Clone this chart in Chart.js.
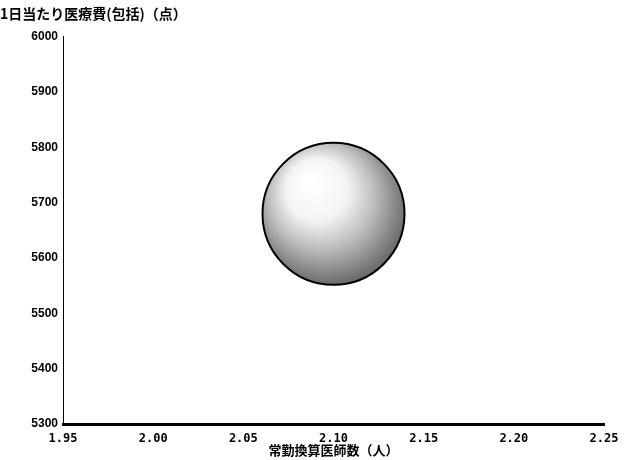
<!DOCTYPE html>
<html>
<head>
<meta charset="utf-8">
<script src="https://cdn.jsdelivr.net/npm/chart.js@4"></script>
<style>
  html, body { margin: 0; padding: 0; background: #fff; }
  #wrap { width: 625px; height: 460px; }
</style>
</head>
<body>
<div id="wrap"><canvas id="bubbleChart" width="625" height="460"></canvas></div>
<script>
// values
var doctorsX = [2.10];
var costY = [5680];
var xTicks = [1.95, 2.00, 2.05, 2.10, 2.15, 2.20, 2.25];
var yTicks = [5300, 5400, 5500, 5600, 5700, 5800, 5900, 6000];

var points = doctorsX.map(function (x, i) { return {x: x, y: costY[i]}; });

// big bubble would otherwise push the whole layout inwards
Chart.registry.getController('bubble').prototype.getMaxOverflow = function () { return false; };

function sphereFill(c) {
    var chart = c.chart;
    if (!chart.chartArea || c.raw === undefined) return '#aaa';
    var cx = chart.scales.x.getPixelForValue(c.raw.x);
    var cy = chart.scales.y.getPixelForValue(c.raw.y);
    var g = chart.ctx.createRadialGradient(cx - 22, cy - 32, 5, cx - 4, cy - 6, 92);
    g.addColorStop(0, '#ffffff');
    g.addColorStop(0.3, '#f3f3f3');
    g.addColorStop(0.55, '#bdbdbd');
    g.addColorStop(0.8, '#7c7c7c');
    g.addColorStop(1, '#4c4c4c');
    return g;
}

var ctx = document.getElementById("bubbleChart").getContext("2d");
new Chart(ctx, {
    type: 'bubble',
    data: {
        datasets: [{
            label: '医療費',
            data: points,
            radius: 71,
            backgroundColor: sphereFill,
            borderColor: '#000',
            borderWidth: 2,
            hoverRadius: 0
        }]
    },
    options: {
        responsive: false,
        animation: false,
        layout: {padding: {left: 0, right: 21, top: 0, bottom: 0}},
        plugins: {
            legend: {display: false},
            tooltip: {enabled: false},
            title: {
                display: true,
                text: '1日当たり医療費(包括)（点）',
                align: 'start',
                color: '#000',
                font: {family: 'Noto Sans CJK JP', size: 14, weight: 'bold'},
                padding: {top: 5, bottom: 15}
            }
        },
        scales: {
            x: {
                type: 'linear',
                min: 1.95,
                max: 2.25,
                afterBuildTicks: function (s) { s.ticks = xTicks.map(function (v) { return {value: v}; }); },
                afterFit: function (s) { s.height = 36; },
                ticks: {
                    color: '#000',
                    padding: 0,
                    font: {family: 'DejaVu Sans Mono', size: 12, weight: 'bold'},
                    callback: function (v) { return v.toFixed(2); }
                },
                grid: {display: false},
                border: {color: '#000', width: 3},
                title: {
                    display: true,
                    text: '常勤換算医師数（人）',
                    color: '#000',
                    padding: {top: -4, bottom: 2},
                    font: {family: 'Noto Sans CJK JP', size: 13, weight: 'bold'}
                }
            },
            y: {
                type: 'linear',
                min: 5300,
                max: 6000,
                afterBuildTicks: function (s) { s.ticks = yTicks.map(function (v) { return {value: v}; }); },
                afterFit: function (s) { s.width = 63; },
                ticks: {
                    color: '#000',
                    padding: 5,
                    font: {family: 'Liberation Sans', size: 12, weight: 'bold'},
                    callback: function (v) { return String(v); }
                },
                grid: {display: true, drawOnChartArea: false, drawTicks: false},
                border: {color: '#000', width: 1, dash: [1, 1]}
            }
        }
    }
});
</script>
</body>
</html>
